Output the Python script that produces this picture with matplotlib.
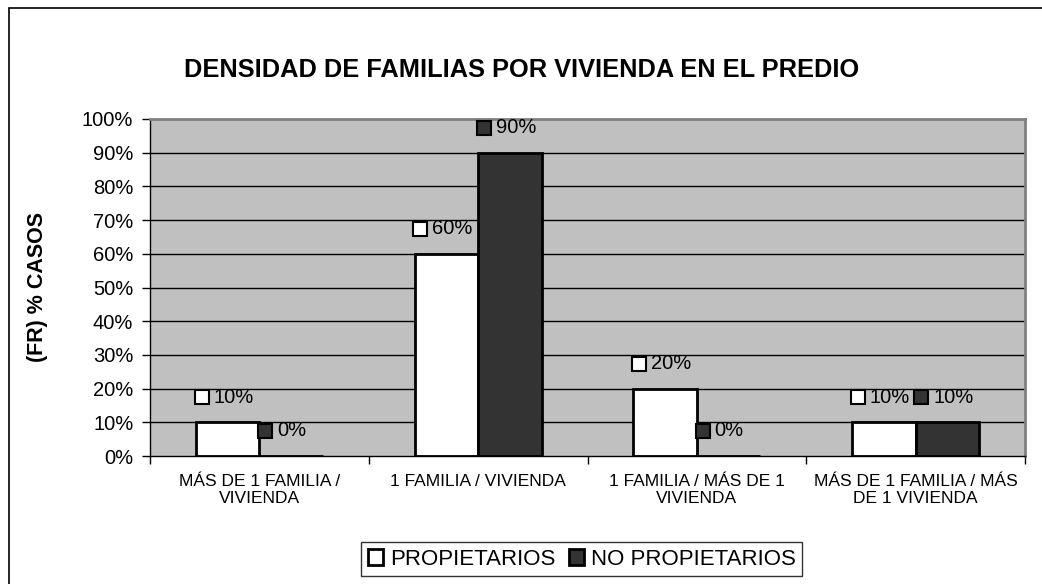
import matplotlib
matplotlib.use("Agg")
import matplotlib.pyplot as plt
import matplotlib.transforms as mtransforms
from matplotlib.patches import Rectangle
import numpy as np

plt.rcParams['font.family'] = ['Liberation Sans', 'DejaVu Sans']

categories = ["MÁS DE 1 FAMILIA /\nVIVIENDA", "1 FAMILIA / VIVIENDA",
              "1 FAMILIA / MÁS DE 1\nVIVIENDA", "MÁS DE 1 FAMILIA / MÁS\nDE 1 VIVIENDA"]
propietarios = [10, 60, 20, 10]
no_propietarios = [0, 90, 0, 10]
yticks = [0, 10, 20, 30, 40, 50, 60, 70, 80, 90, 100]

fig = plt.figure(figsize=(10.42, 5.84), dpi=100)
ax = fig.add_axes([150 / 1042, 1 - 456 / 584, 875 / 1042, 337 / 584])
ax.set_facecolor("#c0c0c0")

# outer frame of the chart
fig.patches.append(Rectangle((9 / 1042, -0.05), 1.1, 1 - 8 / 584 + 0.05,
                             transform=fig.transFigure, fill=False,
                             edgecolor="black", linewidth=1.2))

x = np.arange(len(categories))
w = 0.29
white = "#ffffff"
dark = "#333333"

for y in yticks[1:-1]:
    ax.axhline(y, color="black", linewidth=1, zorder=1)

ax.bar(x - w / 2, propietarios, w, color=white, edgecolor="black", linewidth=2, zorder=2,
       label="PROPIETARIOS")
ax.bar(x + w / 2, no_propietarios, w, color=dark, edgecolor="black", linewidth=2, zorder=2,
       label="NO PROPIETARIOS")

# value labels with legend key squares
for xs, vals, col in [(x - w / 2, propietarios, white), (x + w / 2, no_propietarios, dark)]:
    for xi, v in zip(xs, vals):
        tr = mtransforms.offset_copy(ax.transData, fig=fig, x=-26, y=25, units='dots')
        ax.plot([xi], [v], marker="s", markersize=10, markerfacecolor=col,
                markeredgecolor="black", markeredgewidth=1.5, transform=tr,
                zorder=5, clip_on=False)
        ax.annotate(f"{v}%", (xi, v), xytext=(-14 * 0.72, 25 * 0.72), textcoords="offset points",
                    ha="left", va="center", fontsize=14.5, zorder=6)

ax.set_xlim(-0.5, len(categories) - 0.5)
ax.set_ylim(0, 100)
ax.set_yticks(yticks)
ax.set_yticklabels([f"{t}%" for t in yticks], fontsize=14.5)
ax.tick_params(axis="y", length=6, width=1, direction="out", pad=6)

ax.set_xticks(x)
ax.set_xticklabels(categories, fontsize=12.5)
ax.set_xticks(np.arange(len(categories) + 1) - 0.5, minor=True)
ax.tick_params(axis="x", which="major", length=0, pad=13)
ax.tick_params(axis="x", which="minor", length=6, width=1, direction="out")

for s in ["top", "right"]:
    ax.spines[s].set_color("#808080")
    ax.spines[s].set_linewidth(2)
for s in ["left", "bottom"]:
    ax.spines[s].set_color("black")
    ax.spines[s].set_linewidth(1)

ax.set_ylabel("(FR) % CASOS", fontsize=15.5, fontweight="bold")
ax.yaxis.set_label_coords(-102 / 875, 0.5)

fig.text(522 / 1042, 1 - 70 / 584, "DENSIDAD DE FAMILIAS POR VIVIENDA EN EL PREDIO",
         ha="center", va="center", fontsize=18.3, fontweight="bold")

leg = fig.legend(loc="upper left", bbox_to_anchor=(361 / 1042, 1 - 542 / 584), ncol=2,
                 fontsize=16, frameon=True, fancybox=False, edgecolor="black",
                 handlelength=0.7, handleheight=0.7, handletextpad=0.3,
                 columnspacing=0.6, borderpad=0.3, borderaxespad=0)
leg.get_frame().set_linewidth(1)
for h in leg.legend_handles:
    h.set_linewidth(2)

fig.savefig("out.png", dpi=100)
